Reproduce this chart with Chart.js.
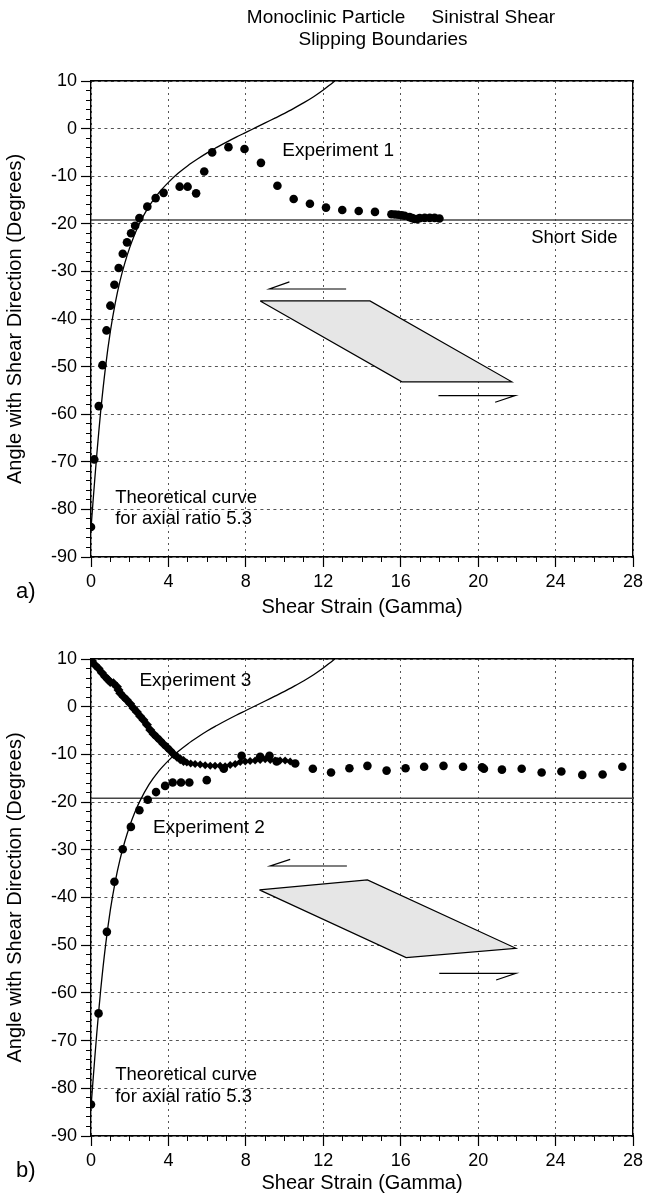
<!DOCTYPE html>
<html><head><meta charset="utf-8">
<script src="https://cdn.jsdelivr.net/npm/chart.js@4.4.1/dist/chart.umd.min.js"></script>
<style>
html,body{margin:0;padding:0;background:#fff;}
#wrap{position:relative;width:656px;height:1195px;overflow:hidden;}
.box{position:absolute;left:0;width:656px;}
#b1{top:0;height:625px;}
#b2{top:625px;height:570px;}
</style></head><body>
<div id="wrap">
<div class="box" id="b1"><canvas id="c1" width="656" height="625"></canvas></div>
<div class="box" id="b2"><canvas id="c2" width="656" height="570"></canvas></div>
</div>
<script>
// ---------- data ----------
const chartTitleLines = ['Monoclinic Particle     Sinistral Shear', 'Slipping Boundaries'];
const xTickValues = [0, 4, 8, 12, 16, 20, 24, 28];
const yTickValues = [10, 0, -10, -20, -30, -40, -50, -60, -70, -80, -90];
const xMinorTicks = [0,1,2,3,4,5,6,7,8,9,10,11,12,13,14,15,16,17,18,19,20,21,22,23,24,25,26,27,28];
const yMinorTicks = [10,8,6,4,2,0,-2,-4,-6,-8,-10,-12,-14,-16,-18,-20,-22,-24,-26,-28,-30,-32,-34,-36,-38,-40,-42,-44,-46,-48,-50,-52,-54,-56,-58,-60,-62,-64,-66,-68,-70,-72,-74,-76,-78,-80,-82,-84,-86,-88,-90];

// theoretical curve (axial ratio 5.3)
const curveGamma = [0, 0.1, 0.2, 0.3, 0.4, 0.5, 0.75, 1, 1.25, 1.5, 1.75, 2, 2.25, 2.5, 3, 3.5, 4, 4.5, 5, 5.5, 6, 6.5, 7, 7.5, 8, 8.5, 9, 9.5, 10, 10.5, 11, 11.5, 12, 12.5, 12.6];
const curveAngle = [-84, -78.6, -73.4, -68.4, -63.8, -59.4, -50.1, -42.6, -36.7, -32.0, -28.2, -25.0, -22.3, -20.0, -16.3, -13.5, -11.3, -9.4, -7.8, -6.4, -5.1, -3.95, -2.85, -1.8, -0.8, 0.2, 1.2, 2.2, 3.2, 4.3, 5.45, 6.7, 8.1, 9.7, 10.0];

// short side orientation
const shortSideAngle = -19.2;

// Experiment 1 (panel a)
const gamma1 = [0, 0.17, 0.4, 0.59, 0.8, 1.0, 1.21, 1.43, 1.64, 1.86, 2.07, 2.28, 2.5, 2.91, 3.34, 3.75, 4.58, 4.99, 5.43, 5.85, 6.26, 7.1, 7.93, 8.78, 9.63, 10.47, 11.31, 12.14, 12.98, 13.83, 14.67, 15.52, 15.7, 15.87, 16.05, 16.2, 16.46, 16.6, 16.72, 16.85, 16.98, 17.24, 17.5, 17.75, 18.0];
const angle1 = [-83.7, -69.5, -58.3, -49.7, -42.4, -37.2, -32.8, -29.3, -26.3, -23.9, -22.0, -20.4, -18.8, -16.4, -14.6, -13.5, -12.2, -12.2, -13.6, -9.0, -5.0, -3.9, -4.3, -7.2, -12.0, -14.8, -15.8, -16.6, -17.1, -17.3, -17.5, -18.0, -18.05, -18.1, -18.2, -18.3, -18.6, -18.8, -19.0, -19.0, -18.8, -18.75, -18.75, -18.75, -18.9];

// Experiment 2 (panel b, circles)
const gamma2 = [0, 0.39, 0.82, 1.21, 1.64, 2.06, 2.5, 2.93, 3.36, 3.83, 4.22, 4.65, 5.08, 5.98, 6.86, 7.78, 8.74, 9.22, 9.59, 10.55, 11.46, 12.4, 13.35, 14.28, 15.27, 16.25, 17.21, 18.21, 19.22, 20.2, 20.3, 21.23, 22.25, 23.28, 24.3, 25.38, 26.43, 27.45];
const angle2 = [-83.4, -64.3, -47.2, -36.7, -29.9, -25.2, -21.7, -19.5, -17.9, -16.6, -15.9, -15.9, -15.9, -15.4, -13.0, -10.3, -10.5, -10.3, -11.5, -11.9, -13.0, -13.8, -12.9, -12.4, -13.4, -12.9, -12.6, -12.4, -12.6, -12.7, -13.0, -13.2, -13.0, -13.8, -13.6, -14.3, -14.2, -12.6];

// Experiment 3 (panel b, diamonds)
const gamma3 = [0.05, 0.22, 0.39, 0.56, 0.73, 0.87, 0.99, 1.16, 1.34, 1.42, 1.51, 1.68, 1.85, 2.02, 2.2, 2.37, 2.54, 2.71, 2.89, 3.06, 3.23, 3.4, 3.57, 3.74, 3.92, 4.09, 4.26, 4.44, 4.61, 4.78, 4.95, 5.15, 5.38, 5.64, 5.9, 6.16, 6.41, 6.67, 6.93, 7.19, 7.45, 7.71, 7.97, 8.22, 8.48, 8.74, 9.0, 9.26, 9.51, 9.77, 10.03, 10.29];
const angle3 = [9.6, 8.7, 8.0, 7.1, 6.3, 5.7, 5.2, 4.9, 4.2, 3.5, 2.8, 2.1, 1.4, 0.6, -0.3, -1.1, -2.0, -2.8, -3.8, -4.9, -5.7, -6.4, -7.1, -7.8, -8.5, -9.2, -9.9, -10.5, -11.0, -11.4, -11.7, -11.9, -12.0, -12.1, -12.3, -12.4, -12.4, -12.4, -12.5, -12.2, -12.0, -11.6, -11.5, -11.4, -11.3, -11.2, -11.0, -11.2, -11.3, -11.3, -11.3, -11.5];

// particle sketches (data coordinates)
const shapeXa = [8.74, 14.41, 21.74, 16.06, 8.74];
const shapeYa = [-36.2, -36.2, -53.2, -53.2, -36.2];
const arrowTopXa = [10.25, 9.22, 13.18];
const arrowTopYa = [-32.2, -33.7, -33.7];
const arrowBotXa = [17.95, 21.91, 20.88];
const arrowBotYa = [-56.1, -56.1, -57.5];

const shapeXb = [8.70, 14.28, 21.95, 16.28, 8.70];
const shapeYb = [-38.4, -36.3, -50.65, -52.6, -38.4];
const arrowTopXb = [10.29, 9.26, 13.22];
const arrowTopYb = [-32.0, -33.4, -33.4];
const arrowBotXb = [17.99, 21.95, 20.93];
const arrowBotYb = [-55.9, -55.9, -57.3];

// ---------- helpers ----------
const FONT = '"Liberation Sans", Arial, Helvetica, sans-serif';
const pts = (xs, ys) => xs.map((v, i) => ({x: v, y: ys[i]}));

const textPlugin = {
  id: 'panelText',
  afterDatasetsDraw(chart, args, opts) {
    const {ctx} = chart;
    const xs = chart.scales.x, ys = chart.scales.y;
    ctx.save();
    ctx.fillStyle = '#000';
    ctx.textBaseline = 'middle';
    (opts.items || []).forEach(it => {
      ctx.font = (it.size || 18) + 'px ' + FONT;
      ctx.textAlign = it.align || 'left';
      ctx.fillText(it.text, xs.getPixelForValue(it.x), ys.getPixelForValue(it.y));
    });
    (opts.heading || []).forEach(h => {
      ctx.font = h.size + 'px ' + FONT;
      ctx.textAlign = 'center';
      ctx.fillText(h.text, h.cx, h.cy);
    });
    if (opts.panel) {
      ctx.font = '22px ' + FONT;
      ctx.textAlign = 'left';
      ctx.fillText(opts.panel.text, opts.panel.px, opts.panel.py);
    }
    ctx.restore();
  }
};

function makeScales(xAxisHeight, xTitlePadBottom) {
  const tickFont = {family: FONT, size: 18};
  const titleFont = {family: FONT, size: 20};
  return {
    x: {
      type: 'linear', position: 'bottom', weight: 1, min: 0, max: 28,
      afterBuildTicks: s => { s.ticks = xTickValues.map(v => ({value: v})); },
      ticks: {font: tickFont, color: '#000', padding: 4, autoSkip: false, maxRotation: 0, callback: v => String(v)},
      grid: {color: '#555', lineWidth: 1, tickColor: '#000', tickLength: 10, tickWidth: 1.2},
      border: {display: true, color: '#000', width: 1.4, dash: [2, 4]},
      title: {display: true, text: 'Shear Strain (Gamma)', font: titleFont, color: '#000', padding: {top: 0, bottom: xTitlePadBottom}},
      afterFit: s => { s.height = xAxisHeight; }
    },
    xm: {
      type: 'linear', position: 'bottom', weight: 0, min: 0, max: 28,
      afterBuildTicks: s => { s.ticks = xMinorTicks.map(v => ({value: v})); },
      ticks: {display: false},
      grid: {drawOnChartArea: false, tickLength: 5, tickColor: '#000', tickWidth: 1},
      border: {display: false},
      afterFit: s => { s.height = 0; }
    },
    xt: {
      type: 'linear', position: 'top', min: 0, max: 28,
      ticks: {display: false},
      grid: {drawOnChartArea: false, drawTicks: false},
      border: {display: true, color: '#000', width: 1.4},
      afterFit: s => { s.height = 0; }
    },
    y: {
      type: 'linear', position: 'left', weight: 1, min: -90, max: 10,
      afterBuildTicks: s => { s.ticks = yTickValues.map(v => ({value: v})); },
      ticks: {font: tickFont, color: '#000', padding: 4, autoSkip: false, callback: v => String(v)},
      grid: {color: '#555', lineWidth: 1, tickColor: '#000', tickLength: 10, tickWidth: 1.2},
      border: {display: true, color: '#000', width: 1.4, dash: [3, 3.5]},
      title: {display: true, text: 'Angle with Shear Direction (Degrees)', font: titleFont, color: '#000', padding: {top: 3, bottom: 0}},
      afterFit: s => { s.width = 91; }
    },
    ym: {
      type: 'linear', position: 'left', weight: 0, min: -90, max: 10,
      afterBuildTicks: s => { s.ticks = yMinorTicks.map(v => ({value: v})); },
      ticks: {display: false},
      grid: {drawOnChartArea: false, tickLength: 5, tickColor: '#000', tickWidth: 1},
      border: {display: false},
      afterFit: s => { s.width = 0; }
    },
    yr: {
      type: 'linear', position: 'right', min: -90, max: 10,
      ticks: {display: false},
      grid: {drawOnChartArea: false, drawTicks: false},
      border: {display: true, color: '#000', width: 1.4},
      afterFit: s => { s.width = 0; }
    }
  };
}

function pointSet(data, style) {
  return {data, showLine: false, pointStyle: style,
    pointRadius: style === 'rectRot' ? (c => (c.raw && c.raw.x < 4.9) ? 5 : 4) : 4.3,
    pointBackgroundColor: '#000', pointBorderWidth: 0, pointHoverRadius: 4};
}
function lineSet(data, opts) {
  return Object.assign({data, showLine: true, pointRadius: 0, borderColor: '#000', borderWidth: 1.2, fill: false}, opts || {});
}
function sketchSets(sx, sy, ax1, ay1, ax2, ay2) {
  return [
    lineSet(pts(ax1, ay1), {borderWidth: 1.2}),
    lineSet(pts(ax2, ay2), {borderWidth: 1.2}),
    lineSet(pts(sx, sy), {fill: 'shape', backgroundColor: '#e6e6e6', borderWidth: 1.2})
  ];
}

// ---------- panel a ----------
new Chart(document.getElementById('c1'), {
  type: 'scatter',
  data: {datasets: [
    pointSet(pts(gamma1, angle1), 'circle'),
    lineSet(pts(curveGamma, curveAngle), {cubicInterpolationMode: 'monotone', borderWidth: 1.3}),
    lineSet(pts([0, 28], [shortSideAngle, shortSideAngle]), {borderColor: '#444', borderWidth: 1.5}),
    ...sketchSets(shapeXa, shapeYa, arrowTopXa, arrowTopYa, arrowBotXa, arrowBotYa)
  ]},
  options: {
    responsive: false, animation: false, devicePixelRatio: 1,
    layout: {padding: {top: 81, left: 0, right: 23, bottom: 0}},
    scales: makeScales(68, 6),
    plugins: {
      legend: {display: false}, tooltip: {enabled: false}, title: {display: false},
      panelText: {
        heading: [
          {text: chartTitleLines[0], cx: 401, cy: 18, size: 19},
          {text: chartTitleLines[1], cx: 383, cy: 39.5, size: 19}
        ],
        items: [
          {text: 'Experiment 1', x: 9.88, y: -4.75, align: 'left', size: 19},
          {text: 'Short Side', x: 27.2, y: -23.0, align: 'right', size: 18.5},
          {text: 'Theoretical curve', x: 1.25, y: -77.6, align: 'left', size: 18.5},
          {text: 'for axial ratio 5.3', x: 1.25, y: -82.0, align: 'left', size: 18.5}
        ],
        panel: {text: 'a)', px: 16, py: 592}
      }
    }
  },
  plugins: [textPlugin]
});

// ---------- panel b ----------
new Chart(document.getElementById('c2'), {
  type: 'scatter',
  data: {datasets: [
    pointSet(pts(gamma3, angle3), 'rectRot'),
    pointSet(pts(gamma2, angle2), 'circle'),
    lineSet(pts(curveGamma, curveAngle), {cubicInterpolationMode: 'monotone', borderWidth: 1.3}),
    lineSet(pts([0, 28], [shortSideAngle, shortSideAngle]), {borderColor: '#444', borderWidth: 1.5}),
    ...sketchSets(shapeXb, shapeYb, arrowTopXb, arrowTopYb, arrowBotXb, arrowBotYb)
  ]},
  options: {
    responsive: false, animation: false, devicePixelRatio: 1,
    layout: {padding: {top: 34, left: 0, right: 23, bottom: 0}},
    scales: makeScales(59, 0),
    plugins: {
      legend: {display: false}, tooltip: {enabled: false}, title: {display: false},
      panelText: {
        items: [
          {text: 'Experiment 3', x: 2.5, y: 5.45, align: 'left', size: 19},
          {text: 'Experiment 2', x: 3.2, y: -25.4, align: 'left', size: 19},
          {text: 'Theoretical curve', x: 1.25, y: -77.1, align: 'left', size: 18.5},
          {text: 'for axial ratio 5.3', x: 1.25, y: -81.8, align: 'left', size: 18.5}
        ],
        panel: {text: 'b)', px: 16, py: 546}
      }
    }
  },
  plugins: [textPlugin]
});
</script>
</body></html>
